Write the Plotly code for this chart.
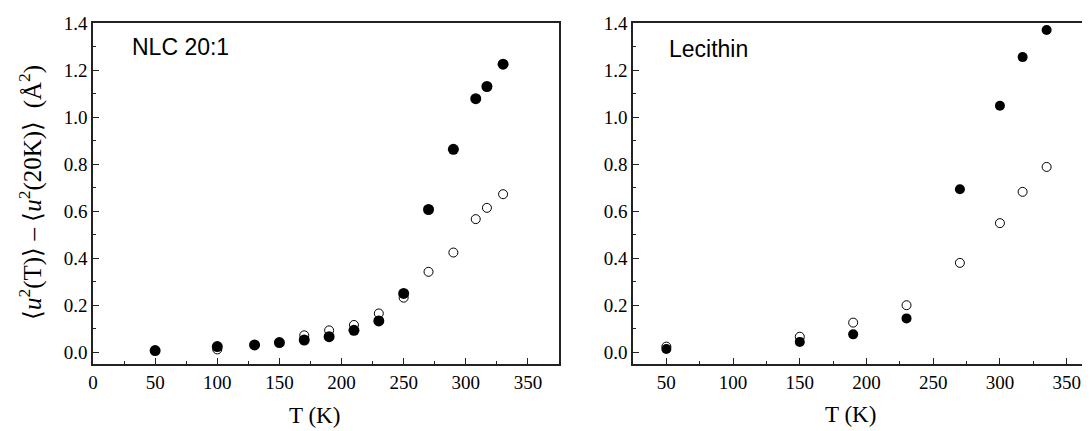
import plotly.graph_objects as go

# NLC 20:1 panel
nlc_t_filled = [50, 100, 130, 150, 170, 190, 210, 230, 250, 270, 290, 308, 317, 330]
nlc_u_filled = [0.007, 0.024, 0.031, 0.041, 0.052, 0.066, 0.093, 0.133, 0.25, 0.607, 0.863, 1.078, 1.13, 1.225]
nlc_t_open = [100, 170, 190, 210, 230, 250, 270, 290, 308, 317, 330]
nlc_u_open = [0.012, 0.072, 0.093, 0.116, 0.165, 0.232, 0.342, 0.424, 0.566, 0.614, 0.672]

# Lecithin panel
lec_t_filled = [50, 150, 190, 230, 270, 300, 317, 335]
lec_u_filled = [0.014, 0.044, 0.076, 0.144, 0.693, 1.048, 1.255, 1.37]
lec_t_open = [50, 150, 190, 230, 270, 300, 317, 335]
lec_u_open = [0.024, 0.066, 0.126, 0.2, 0.38, 0.549, 0.682, 0.788]

W, H = 1090, 431
OFF = 8  # page body margin pushes the figure 8px right/down
SERIF = "Liberation Serif"
SANS = "Liberation Sans"
AXCOL = "#222"

def px_x(x):
    return (x - OFF) / W

def px_y(y):
    return 1 - (y - OFF) / H

fig = go.Figure()

def add_pair(tf, uf, to, uo, xa, ya, big):
    fig.add_trace(go.Scatter(x=to, y=uo, mode="markers", xaxis=xa, yaxis=ya,
                             marker=dict(symbol="circle-open", size=9, color="black",
                                         line=dict(width=1, color="black"))))
    fig.add_trace(go.Scatter(x=tf, y=uf, mode="markers", xaxis=xa, yaxis=ya,
                             marker=dict(symbol="circle", size=big, color="black")))

add_pair(nlc_t_filled, nlc_u_filled, nlc_t_open, nlc_u_open, "x", "y", 11)
add_pair(lec_t_filled, lec_u_filled, lec_t_open, lec_u_open, "x2", "y2", 10)

y_dom = [px_y(364), px_y(23)]

fig.update_layout(
    width=W, height=H, showlegend=False,
    plot_bgcolor="white", paper_bgcolor="white",
    font=dict(family=SERIF, size=18, color="black"),
    margin=dict(l=0, r=0, t=0, b=0),
    xaxis=dict(domain=[px_x(93), px_x(559)], range=[0, 375], dtick=50, mirror=True, anchor="y"),
    yaxis=dict(domain=y_dom, range=[-0.05, 1.4], dtick=0.2, tickformat=".1f", mirror=True, anchor="x"),
    xaxis2=dict(domain=[px_x(633), 1.0], range=[25, 373.5],
                tickvals=[50, 100, 150, 200, 250, 300, 350], mirror=True, anchor="y2"),
    yaxis2=dict(domain=y_dom, range=[-0.05, 1.4], dtick=0.2, tickformat=".1f", anchor="x2"),
)

axis_style = dict(showgrid=False, zeroline=False, showline=True, linecolor=AXCOL, linewidth=1.5,
                  ticks="inside", ticklen=6, tickwidth=1.2, tickcolor=AXCOL, automargin=False,
                  tickfont=dict(family=SERIF, size=19, color="black"))
fig.update_xaxes(**axis_style)
fig.update_yaxes(**axis_style)
fig.update_layout(
    xaxis_minor=dict(ticks="inside", ticklen=3, tickwidth=1.2, tickcolor=AXCOL, dtick=25),
    xaxis2_minor=dict(ticks="inside", ticklen=3, tickwidth=1.2, tickcolor=AXCOL,
                      tickvals=[75, 125, 175, 225, 275, 325]),
    yaxis_minor=dict(ticks="inside", ticklen=3, tickwidth=1.2, tickcolor=AXCOL, dtick=0.1),
    yaxis2_minor=dict(ticks="inside", ticklen=3, tickwidth=1.2, tickcolor=AXCOL, dtick=0.1),
)

annots = [
    dict(text="NLC 20:1", x=130, y=47, xanchor="left", font=dict(family=SANS, size=23)),
    dict(text="Lecithin", x=667, y=49, xanchor="left", font=dict(family=SANS, size=23)),
    dict(text="T (K)", x=314, y=415, font=dict(family=SERIF, size=23)),
    dict(text="T (K)", x=850, y=414, font=dict(family=SERIF, size=23)),
    dict(text="\u27e8<i>u</i><sup>2</sup>(T)\u27e9 \u2013 \u27e8<i>u</i><sup>2</sup>(20K)\u27e9  (\u00c5<sup>2</sup>)",
         x=30, y=193, textangle=-90, font=dict(family=SERIF, size=25)),
]
for a in annots:
    fig.add_annotation(xref="paper", yref="paper", x=px_x(a["x"]), y=px_y(a["y"]),
                       xanchor=a.get("xanchor", "center"), yanchor="middle",
                       text=a["text"], showarrow=False, textangle=a.get("textangle", 0),
                       font=dict(color="black", **a["font"]))

fig.write_html("out.html")
